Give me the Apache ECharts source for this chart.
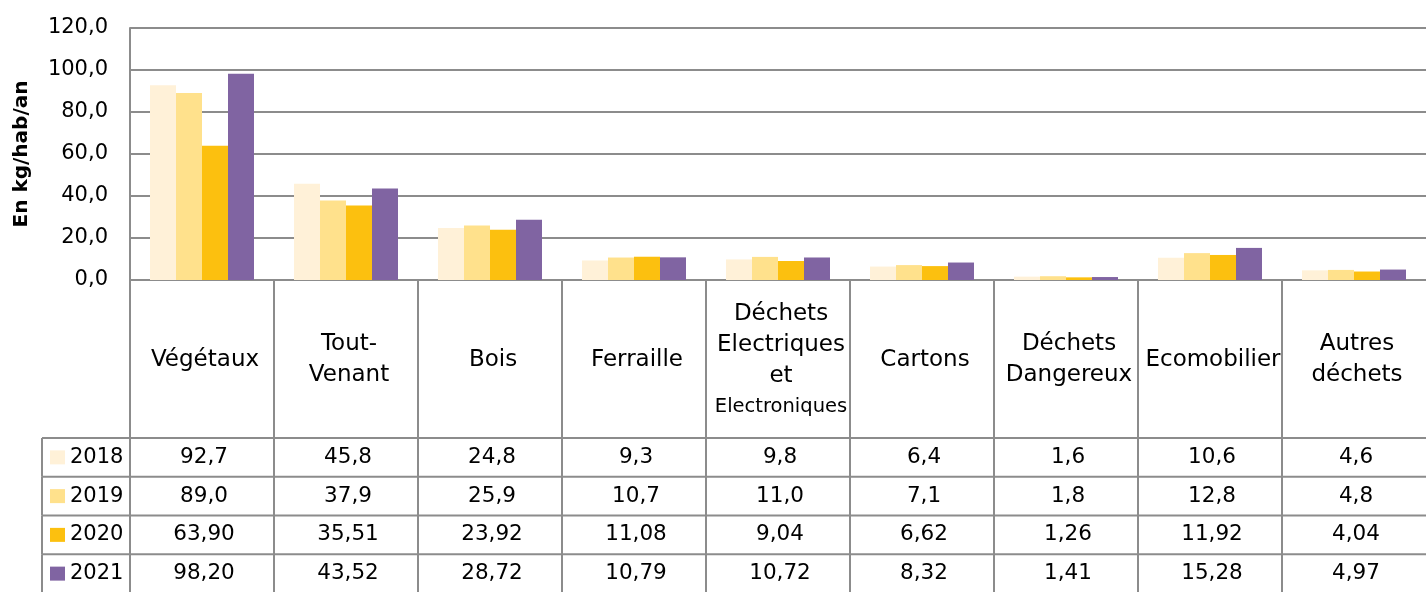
<!DOCTYPE html>
<html lang="fr">
<head>
    <meta charset="UTF-8">
    <title>Déchets en déchèterie - kg/hab/an</title>
    <script src="https://cdn.jsdelivr.net/npm/echarts@6/dist/echarts.min.js"></script>
    <style>
        body, html {
            margin: 0;
            padding: 0;
            width: 100%;
            height: 100%;
            overflow: hidden;
            background-color: #fff;
        }
        #main {
            width: 1426px;
            height: 592px;
        }
    </style>
</head>
<body>
    <div id="main"></div>
    <script>
        // données
        var categories = ['Végétaux', 'Tout-\nVenant', 'Bois', 'Ferraille',
            'Déchets\nElectriques\net\nElectroniques', 'Cartons',
            'Déchets\nDangereux', 'Ecomobilier', 'Autres\ndéchets'];
        var years = ['2018', '2019', '2020', '2021'];
        var decimals = [1, 1, 2, 2];
        var colors = ['#FFF1D8', '#FFE18C', '#FCC00F', '#8064A2'];
        var v2018 = [92.7, 45.8, 24.8, 9.3, 9.8, 6.4, 1.6, 10.6, 4.6];
        var v2019 = [89.0, 37.9, 25.9, 10.7, 11.0, 7.1, 1.8, 12.8, 4.8];
        var v2020 = [63.90, 35.51, 23.92, 11.08, 9.04, 6.62, 1.26, 11.92, 4.04];
        var v2021 = [98.20, 43.52, 28.72, 10.79, 10.72, 8.32, 1.41, 15.28, 4.97];
        var values = [v2018, v2019, v2020, v2021];
        var yTicks = [0, 20, 40, 60, 80, 100, 120];

        var FONT = 'DejaVu Sans';
        var GRAY = '#8c8c8c';
        var LEG_MIN = -88 / 144;    // colonne de légende du tableau
        var HEAD = 158 / 38.75;     // hauteur de la ligne des catégories (en lignes)

        function fmt(v, d) {
            return v.toFixed(d).replace('.', ',');
        }

        function headerText(name) {
            // les mots trop longs passent en plus petit
            return name.split('\n').map(function (l) {
                return l.length > 11 ? '{s|' + l + '}' : '{n|' + l + '}';
            }).join('\n');
        }

        // cellules du tableau : [colonne, ligne], -1 = légende / en-tête
        var cells = [];
        for (var c = 0; c < categories.length; c++) cells.push([c, -1]);
        for (var r = 0; r < years.length; r++) {
            for (var c2 = -1; c2 < categories.length; c2++) cells.push([c2, r]);
        }

        function renderCell(params, api) {
            var col = api.value(0), row = api.value(1);
            var xa = col < 0 ? LEG_MIN : col, xb = col < 0 ? 0 : col + 1;
            var ya = row < 0 ? 0 : HEAD + row, yb = row < 0 ? HEAD : HEAD + row + 1;
            var p0 = api.coord([xa, ya]), p1 = api.coord([xb, yb]);
            var line = { stroke: GRAY, lineWidth: 2 };
            var kids = [
                { type: 'line', shape: { x1: p0[0], y1: p0[1], x2: p0[0], y2: p1[1] }, style: line },
                { type: 'line', shape: { x1: p0[0], y1: p1[1], x2: p1[0], y2: p1[1] }, style: line }
            ];
            if (col < 0 && row === 0) {
                kids.push({ type: 'line', shape: { x1: p0[0], y1: p0[1], x2: p1[0], y2: p0[1] }, style: line });
            }
            var cx = (p0[0] + p1[0]) / 2, cy = (p0[1] + p1[1]) / 2;
            if (row < 0) {
                kids.push({
                    type: 'text',
                    style: {
                        x: cx + 3, y: cy + 1, text: headerText(categories[col]),
                        align: 'center', verticalAlign: 'middle',
                        rich: {
                            n: { fontFamily: FONT, fontSize: 23, lineHeight: 31, fill: '#000' },
                            s: { fontFamily: FONT, fontSize: 19.5, lineHeight: 29, fill: '#000' }
                        }
                    }
                });
            } else if (col < 0) {
                kids.push({
                    type: 'rect',
                    shape: { x: p0[0] + 8, y: cy - 7, width: 15, height: 14 },
                    style: { fill: colors[row] }
                });
                kids.push({
                    type: 'text',
                    style: {
                        x: p0[0] + 28, y: cy, text: years[row],
                        align: 'left', verticalAlign: 'middle',
                        fontFamily: FONT, fontSize: 21, fill: '#000'
                    }
                });
            } else {
                kids.push({
                    type: 'text',
                    style: {
                        x: cx + 2, y: cy, text: fmt(values[row][col], decimals[row]),
                        align: 'center', verticalAlign: 'middle',
                        fontFamily: FONT, fontSize: 21.5, fill: '#000'
                    }
                });
            }
            return { type: 'group', children: kids };
        }

        var barSeries = years.map(function (y, i) {
            return {
                name: y,
                type: 'bar',
                xAxisIndex: 0,
                yAxisIndex: 0,
                barWidth: 26,
                barGap: '0%',
                itemStyle: { color: colors[i] },
                data: values[i]
            };
        });

        var option = {
            animation: false,
            backgroundColor: '#fff',
            grid: [
                { left: 130, right: 0, top: 28, height: 252, outerBoundsMode: 'none', containLabel: false },
                { left: 42, right: 0, top: 280, height: 313, outerBoundsMode: 'none', containLabel: false }
            ],
            xAxis: [
                {
                    type: 'category',
                    gridIndex: 0,
                    data: categories,
                    axisLine: { lineStyle: { color: GRAY, width: 2 } },
                    axisTick: { show: false },
                    axisLabel: { show: false }
                },
                {
                    type: 'value',
                    gridIndex: 1,
                    min: LEG_MIN,
                    max: categories.length,
                    show: false
                }
            ],
            yAxis: [
                {
                    type: 'value',
                    gridIndex: 0,
                    min: yTicks[0],
                    max: yTicks[yTicks.length - 1],
                    interval: 20,
                    name: 'En kg/hab/an',
                    nameLocation: 'middle',
                    nameRotate: 90,
                    nameGap: 98,
                    nameTextStyle: { fontFamily: FONT, fontSize: 20, fontWeight: 'bold', color: '#000' },
                    axisLine: { show: true, lineStyle: { color: GRAY, width: 2 } },
                    axisTick: { show: false },
                    axisLabel: {
                        fontFamily: FONT, fontSize: 21, color: '#000', margin: 22,
                        formatter: function (v) { return fmt(v, 1); }
                    },
                    splitLine: { lineStyle: { color: GRAY, width: 2 } }
                },
                {
                    type: 'value',
                    gridIndex: 1,
                    min: 0,
                    max: HEAD + years.length,
                    inverse: true,
                    show: false
                }
            ],
            series: barSeries.concat([{
                type: 'custom',
                xAxisIndex: 1,
                yAxisIndex: 1,
                silent: true,
                clip: false,
                renderItem: renderCell,
                data: cells
            }])
        };

        var chart = echarts.init(document.getElementById('main'));
        chart.setOption(option);
    </script>
</body>
</html>
